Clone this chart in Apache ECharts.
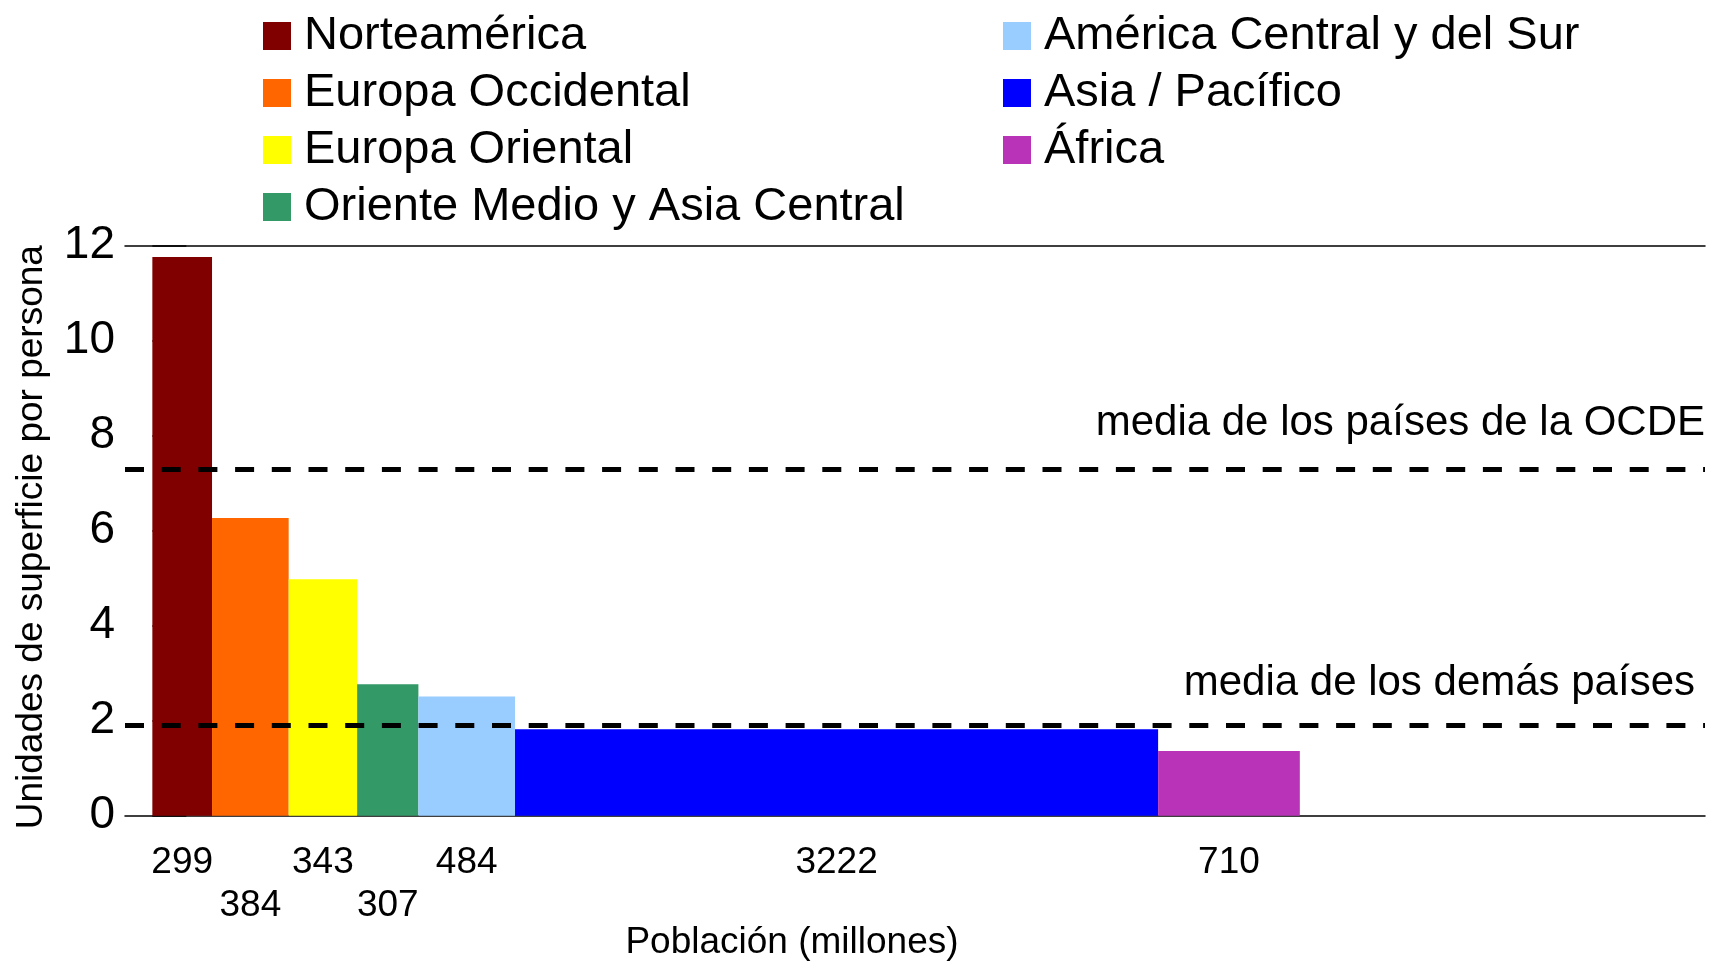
<!DOCTYPE html>
<html>
<head>
<meta charset="utf-8">
<script src="https://cdn.jsdelivr.net/npm/echarts@6/dist/echarts.min.js"></script>
<style>
html,body{margin:0;padding:0;background:#fff;}
#chart{width:1714px;height:961px;}
</style>
</head>
<body>
<div id="chart"></div>
<script>
// ---- data ----
const regions = ['Norteamérica', 'Europa Occidental', 'Europa Oriental', 'Oriente Medio y Asia Central',
                 'América Central y del Sur', 'Asia / Pacífico', 'África'];
const population = [299, 384, 343, 307, 484, 3222, 710];          // millones
const areaPerPerson = [11.76, 6.27, 4.98, 2.77, 2.51, 1.82, 1.36];  // unidades de superficie por persona
const regionColors = ['#800000', '#ff6600', '#ffff00', '#339966', '#99ccff', '#0000ff', '#b833b8'];
const oecdMean = 7.29;
const otherMean = 1.91;
const refLabels = ['media de los países de la OCDE', 'media de los demás países'];
const yMin = 0, yMax = 12, yInterval = 2;
const xTitle = 'Población (millones)';
const yTitle = 'Unidades de superficie por persona';

const FONT = "'Liberation Sans', Arial, sans-serif";

// cumulative positions along the population axis
const starts = [];
let acc = 0;
population.forEach(p => { starts.push(acc); acc += p; });

// label row: alternate rows for consecutive narrow bars
const rows = [];
population.forEach((p, i) => {
  const narrow = p < 600;
  const prevNarrow = i > 0 && population[i - 1] < 600;
  rows.push(narrow && prevNarrow && rows[i - 1] === 0 ? 1 : 0);
});

const xMin = -137, xMax = 7779;

function renderBar(params, api) {
  const x0 = api.value(0), x1 = api.value(1), v = api.value(2);
  const row = api.value(3), pop = api.value(4);
  const pTop = api.coord([x0, v]);
  const pBot = api.coord([x1, 0]);
  return {
    type: 'group',
    children: [
      { type: 'rect',
        shape: { x: pTop[0], y: pTop[1], width: pBot[0] - pTop[0], height: pBot[1] - pTop[1] },
        style: { fill: api.visual('color') } },
      { type: 'text',
        x: (pTop[0] + pBot[0]) / 2,
        y: pBot[1] + 47 + row * 43.5,
        style: { text: String(pop), fill: '#000', font: '37px ' + FONT, align: 'center', verticalAlign: 'middle' } }
    ]
  };
}

const series = regions.map((name, i) => {
  const s = {
    type: 'custom',
    name: name,
    renderItem: renderBar,
    itemStyle: { color: regionColors[i] },
    encode: { x: [0, 1], y: 2 },
    data: [[starts[i], starts[i] + population[i], areaPerPerson[i], rows[i], population[i]]],
    silent: true,
    clip: false
  };
  if (i === 0) {
    s.markLine = {
      silent: true,
      symbol: 'none',
      lineStyle: { color: '#000', width: 5, type: [19, 17.7] },
      label: {
        show: true, position: 'insideEndTop', color: '#000',
        fontSize: 42, fontFamily: FONT, lineHeight: 42, align: 'right'
      },
      data: [
        { yAxis: oecdMean, label: { formatter: refLabels[0], distance: [0, 25] } },
        { yAxis: otherMean, label: { formatter: refLabels[1], distance: [0, 21], padding: [0, 10, 0, 0] } }
      ]
    };
  }
  return s;
});

const legendCommon = {
  orient: 'vertical',
  icon: 'rect',
  itemWidth: 28,
  itemHeight: 28,
  itemGap: 10,
  padding: 0,
  selectedMode: false,
  textStyle: { fontSize: 47, lineHeight: 47, fontFamily: FONT, color: '#000', padding: [0, 0, 0, 8] }
};

const option = {
  animation: false,
  backgroundColor: '#fff',
  textStyle: { fontFamily: FONT },
  grid: { left: 125, right: 9, top: 245.7, bottom: 145.3, containLabel: false },
  legend: [
    Object.assign({}, legendCommon, { left: 263, top: 12.5, data: regions.slice(0, 4) }),
    Object.assign({}, legendCommon, { left: 1003, top: 12.5, data: regions.slice(4) })
  ],
  xAxis: [
    { type: 'value', min: xMin, max: xMax, position: 'bottom',
      axisLine: { show: true, lineStyle: { color: '#000', width: 1.5 } },
      axisTick: { show: false }, axisLabel: { show: false }, splitLine: { show: false } },
    { type: 'value', min: xMin, max: xMax, position: 'top',
      axisLine: { show: true, lineStyle: { color: '#000', width: 1.5 } },
      axisTick: { show: false }, axisLabel: { show: false }, splitLine: { show: false } }
  ],
  yAxis: {
    type: 'value', min: yMin, max: yMax, interval: yInterval,
    name: yTitle, nameLocation: 'middle', nameGap: 74.5,
    nameTextStyle: { fontSize: 37, fontFamily: FONT, color: '#000', lineHeight: 37, padding: [0, 13, 0, 0] },
    axisLine: { show: false },
    axisTick: { show: true, inside: true, length: 34, lineStyle: { color: '#000', width: 1.5 } },
    axisLabel: { fontSize: 46, fontFamily: FONT, color: '#000', margin: 10 },
    splitLine: { show: false }
  },
  graphic: [
    { type: 'text', x: 792, y: 942.5,
      style: { text: xTitle, font: '37px ' + FONT, fill: '#000', align: 'center', verticalAlign: 'middle' } }
  ],
  series: series
};

const chart = echarts.init(document.getElementById('chart'), null, { renderer: 'canvas' });
chart.setOption(option);
</script>
</body>
</html>
